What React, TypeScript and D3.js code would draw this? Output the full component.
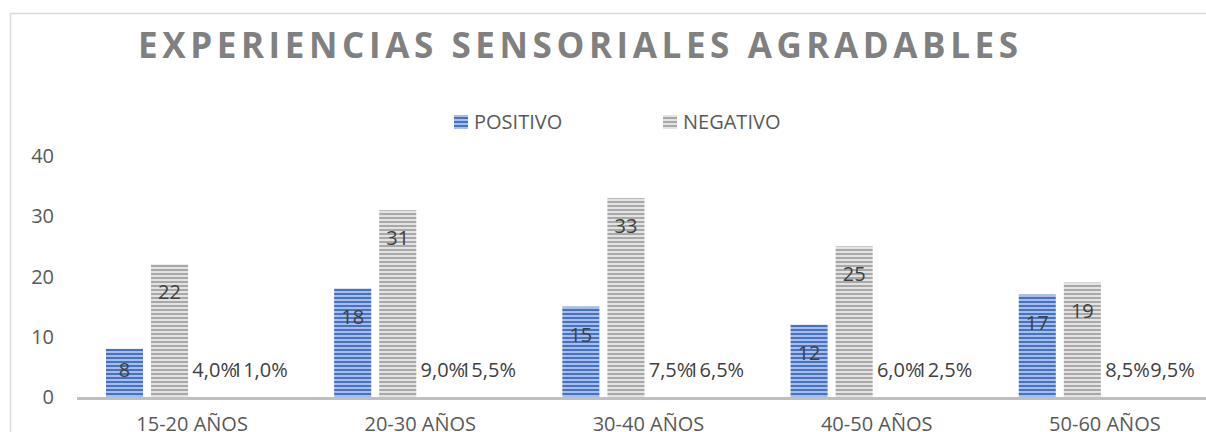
import React, { useRef, useEffect } from "react"
import * as d3 from "d3"

const categories = ["15-20 AÑOS", "20-30 AÑOS", "30-40 AÑOS", "40-50 AÑOS", "50-60 AÑOS"]
const positivo = [8, 18, 15, 12, 17]
const negativo = [22, 31, 33, 25, 19]
const pctPositivo = [4.0, 9.0, 7.5, 6.0, 8.5]
const pctNegativo = [11.0, 15.5, 16.5, 12.5, 9.5]
const yTicks = [0, 10, 20, 30, 40]
const title = "EXPERIENCIAS SENSORIALES AGRADABLES"

const FONT = "'Open Sans', 'Noto Sans', sans-serif"

const App = () => {
    let element = useRef<SVGSVGElement | null>(null)

    useEffect(() => {
        const W = 1206, H = 432
        const svg = d3.select(element.current)
        svg.selectAll("*").remove()

        const defs = svg.append("defs")
        const stripes = (id: string, light: string, dark: string) => {
            const p = defs.append("pattern")
                .attr("id", id)
                .attr("patternUnits", "userSpaceOnUse")
                .attr("width", 8).attr("height", 4)
            p.append("rect").attr("width", 8).attr("height", 4).attr("fill", light)
            p.append("rect").attr("y", 1).attr("width", 8).attr("height", 2).attr("fill", dark)
        }
        stripes("stripeBlue", "#a9bde6", "#4472c4")
        stripes("stripeGray", "#e3e3e3", "#a8a8a8")

        // chart border (right and bottom cropped)
        svg.append("path")
            .attr("d", `M10.5,${H} V13.5 H${W}`)
            .attr("fill", "none")
            .attr("stroke", "#d9d9d9")
            .attr("stroke-width", 1.5)

        svg.append("text")
            .attr("x", 138).attr("y", 58)
            .attr("textLength", 880)
            .attr("lengthAdjust", "spacing")
            .attr("font-family", FONT)
            .attr("font-weight", "bold")
            .attr("font-size", 35)
            .attr("fill", "#808080")
            .text(title)

        // legend
        const legend = [
            { name: "POSITIVO", fill: "url(#stripeBlue)", x: 454 },
            { name: "NEGATIVO", fill: "url(#stripeGray)", x: 663 },
        ]
        legend.forEach(l => {
            svg.append("rect").attr("x", l.x).attr("y", 115).attr("width", 14).attr("height", 14).attr("fill", l.fill)
            svg.append("text")
                .attr("x", l.x + 20).attr("y", 129)
                .attr("font-family", FONT).attr("font-size", 20).attr("fill", "#595959")
                .text(l.name)
        })

        const x = d3.scaleBand().domain(categories).range([78, 78 + 5 * 228.2])
        const keys = ["pos", "neg", "p1", "p2"]
        const xs = d3.scaleBand().domain(keys).range([0, x.bandwidth()])
            .paddingInner(0.178).paddingOuter(0.62)
        const y = d3.scaleLinear().domain([0, 40]).range([397, 156])

        // y tick labels
        svg.append("g").selectAll("text").data(yTicks).join("text")
            .attr("x", 54).attr("y", d => y(d) + 7)
            .attr("text-anchor", "end")
            .attr("font-family", FONT).attr("font-size", 20).attr("fill", "#595959")
            .text(d => d)

        const rows = categories.map((c, i) => ({
            cat: c,
            vals: [
                { key: "pos", v: positivo[i], label: String(positivo[i]), fill: "url(#stripeBlue)" },
                { key: "neg", v: negativo[i], label: String(negativo[i]), fill: "url(#stripeGray)" },
                { key: "p1", v: pctPositivo[i] / 100, label: d3.format(".1f")(pctPositivo[i]).replace(".", ",") + "%", fill: "none" },
                { key: "p2", v: pctNegativo[i] / 100, label: d3.format(".1f")(pctNegativo[i]).replace(".", ",") + "%", fill: "none" },
            ]
        }))

        const groups = svg.append("g").selectAll("g").data(rows).join("g")
            .attr("transform", d => `translate(${x(d.cat)},0)`)

        groups.selectAll("rect").data(d => d.vals).join("rect")
            .attr("x", d => xs(d.key)!)
            .attr("width", xs.bandwidth())
            .attr("y", d => y(d.v))
            .attr("height", d => y(0) - y(d.v))
            .attr("fill", d => d.fill)

        groups.selectAll("text").data(d => d.vals).join("text")
            .attr("x", d => xs(d.key)! + xs.bandwidth() / 2)
            .attr("y", d => Math.min(y(d.v) + 28, y(0) - 27) + 7)
            .attr("text-anchor", "middle")
            .attr("font-family", FONT).attr("font-size", 20).attr("fill", "#404040")
            .text(d => d.label)

        // x axis line
        svg.append("line")
            .attr("x1", 77).attr("x2", W)
            .attr("y1", y(0) + 1.5).attr("y2", y(0) + 1.5)
            .attr("stroke", "#bfbfbf").attr("stroke-width", 3)

        svg.append("g").selectAll("text").data(categories).join("text")
            .attr("x", d => x(d)! + x.bandwidth() / 2)
            .attr("y", 431)
            .attr("text-anchor", "middle")
            .attr("font-family", FONT).attr("font-size", 20).attr("fill", "#595959")
            .text(d => d)
    }, [])

    return (
        <svg ref={element} width={1206} height={432}
            style={{ position: "absolute", left: 0, top: 0, background: "#fff" }} />
    )
}

export default App
